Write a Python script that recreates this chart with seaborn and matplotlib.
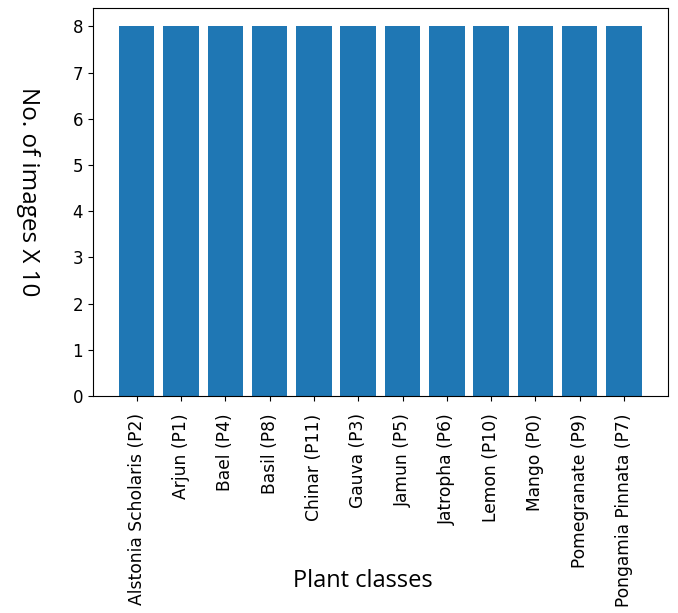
import matplotlib
matplotlib.use("Agg")
import matplotlib.pyplot as plt
from matplotlib import font_manager
import seaborn as sns
import pandas as pd

classes = ["Alstonia Scholaris (P2)", "Arjun (P1)", "Bael (P4)", "Basil (P8)",
           "Chinar (P11)", "Gauva (P3)", "Jamun (P5)", "Jatropha (P6)",
           "Lemon (P10)", "Mango (P0)", "Pomegranate (P9)", "Pongamia Pinnata (P7)"]
counts = [8, 8, 8, 8, 8, 8, 8, 8, 8, 8, 8, 8]

df = pd.DataFrame({"cls": classes, "n": counts})

names = {f.name for f in font_manager.fontManager.ttflist}
label_font = next((n for n in ["Open Sans", "Noto Sans", "Lato", "DejaVu Sans"] if n in names), "DejaVu Sans")

fig = plt.figure(figsize=(6.78, 6.13), dpi=100)
ax = fig.add_axes([0.137, 0.354, 0.848, 0.633])
sns.barplot(data=df, x="cls", y="n", color="#1f77b4", saturation=1,
            width=0.8, ax=ax, zorder=2)
ax.set_xlim(-0.99, 11.99)
ax.set_ylim(0, 8.4)
ax.set_yticks(range(0, 9))
ax.tick_params(axis="x", labelrotation=90, labelsize=12.3, pad=9)
ax.tick_params(axis="y", labelsize=12)
ax.set_xlabel("Plant classes", family=label_font, fontsize=17)
ax.set_ylabel("No. of images X 10", family=label_font, fontsize=17.5,
              rotation=270, va="center", ha="center")
ax.xaxis.set_label_coords(0.47, -0.445)
ax.yaxis.set_label_coords(-0.113, 0.526)
for s in ax.spines.values():
    s.set_visible(True)
    s.set_color("black")
fig.savefig("out.png", dpi=100)
